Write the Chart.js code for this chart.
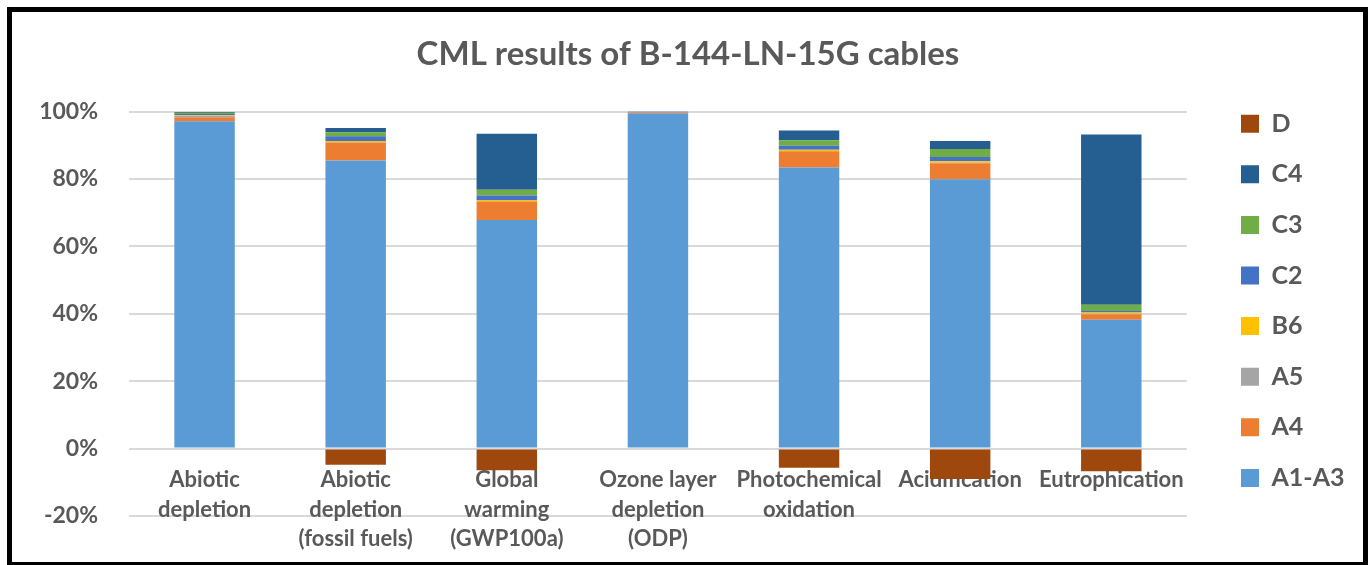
<!DOCTYPE html>
<html>
<head>
<meta charset="utf-8">
<script src="https://cdn.jsdelivr.net/npm/chart.js@4/dist/chart.umd.min.js"></script>
<style>
  html, body { margin: 0; padding: 0; background: #fff; }
  #frame {
    position: absolute; left: 7px; top: 7px;
    width: 1361px; height: 560px;
    box-sizing: border-box; border: 5px solid #000;
  }
  #chart { display: block; }
</style>
</head>
<body>
<div id="frame"><canvas id="chart" width="1351" height="550"></canvas></div>
<script>
// Catégories (libellés sur plusieurs lignes)
const categories = [
  ['Abiotic', 'depletion'],
  ['Abiotic', 'depletion', '(fossil fuels)'],
  ['Global', 'warming', '(GWP100a)'],
  ['Ozone layer', 'depletion', '(ODP)'],
  ['Photochemical', 'oxidation'],
  ['Acidification'],
  ['Eutrophication']
];

// Parts de chaque module (%)
const a1a3 = [97.1, 85.5, 67.8, 99.5, 83.4, 79.9, 38.2];
const a4   = [1.2, 5.3, 5.5, 0.3, 4.8, 4.8, 1.7];
const a5   = [0.5, 0.1, 0.1, 0.1, 0.1, 0.1, 0.1];
const b6   = [0.2, 0.4, 0.4, 0.0, 0.4, 0.5, 0.4];
const c2   = [0.3, 1.4, 1.3, 0.0, 1.2, 1.2, 0.4];
const c3   = [0.3, 1.2, 1.7, 0.0, 1.6, 2.4, 1.9];
const c4   = [0.2, 1.2, 16.6, 0.1, 2.9, 2.4, 50.5];
const d    = [0, -4.8, -6.4, 0, -5.7, -9.0, -6.7];

const yTicks = [-20, 0, 20, 40, 60, 80, 100];

const txt = '#595959';
const police = 'Lato';

const series = [
  { label: 'A1-A3', data: a1a3, color: '#5B9BD5' },
  { label: 'A4',    data: a4,   color: '#ED7D31' },
  { label: 'A5',    data: a5,   color: '#A5A5A5' },
  { label: 'B6',    data: b6,   color: '#FFC000' },
  { label: 'C2',    data: c2,   color: '#4472C4' },
  { label: 'C3',    data: c3,   color: '#70AD47' },
  { label: 'C4',    data: c4,   color: '#255E91' },
  { label: 'D',     data: d,    color: '#9E480E' }
];

// Recale la légende et le titre après la mise en page
const recale = {
  id: 'recale',
  afterLayout(chart) {
    const l = chart.legend;
    if (l) {
      const dx = 1229 - (l.left + l.options.labels.padding);
      l.left += dx;
      l.right += dx;
    }
    const t = chart.titleBlock;
    if (t) {
      const dt = 676 - (t.left + t.right) / 2;
      t.left += dt;
      t.right += dt;
    }
  }
};

const ctx = document.getElementById('chart').getContext('2d');
new Chart(ctx, {
  type: 'bar',
  data: {
    labels: categories,
    datasets: series.map(s => ({
      label: s.label,
      data: s.data,
      backgroundColor: s.color,
      borderWidth: 0,
      categoryPercentage: 1,
      barPercentage: 0.4
    }))
  },
  plugins: [recale],
  options: {
    responsive: false,
    animation: false,
    layout: { padding: { left: 0, right: 37, top: 0, bottom: 46 } },
    plugins: {
      tooltip: { enabled: false },
      title: {
        display: true,
        text: 'CML results of B-144-LN-15G cables',
        color: txt,
        font: { family: police, size: 33, weight: 'bold' },
        padding: { top: 23, bottom: 37 }
      },
      legend: {
        position: 'right',
        align: 'end',
        reverse: true,
        labels: {
          boxWidth: 18,
          boxHeight: 18,
          padding: 25.6,
          color: txt,
          font: { family: police, size: 25, weight: 'bold' }
        }
      }
    },
    scales: {
      x: {
        stacked: true,
        position: { y: 0 },
        z: 1,
        grid: { display: false, drawTicks: false },
        border: { display: false },
        ticks: {
          color: txt,
          padding: 17,
          maxRotation: 0,
          autoSkip: false,
          font: { family: police, size: 22, weight: 'bold', lineHeight: 1.34 }
        }
      },
      y: {
        stacked: true,
        min: -20,
        max: 100,
        afterBuildTicks: axis => { axis.ticks = yTicks.map(v => ({ value: v })); },
        afterFit: axis => { axis.width = 117; },
        grid: { color: '#D9D9D9', lineWidth: 2, drawTicks: false },
        border: { display: false },
        ticks: {
          color: txt,
          padding: 31,
          font: { family: police, size: 23, weight: 'bold' },
          callback: v => v + '%'
        }
      }
    }
  }
});
</script>
</body>
</html>
